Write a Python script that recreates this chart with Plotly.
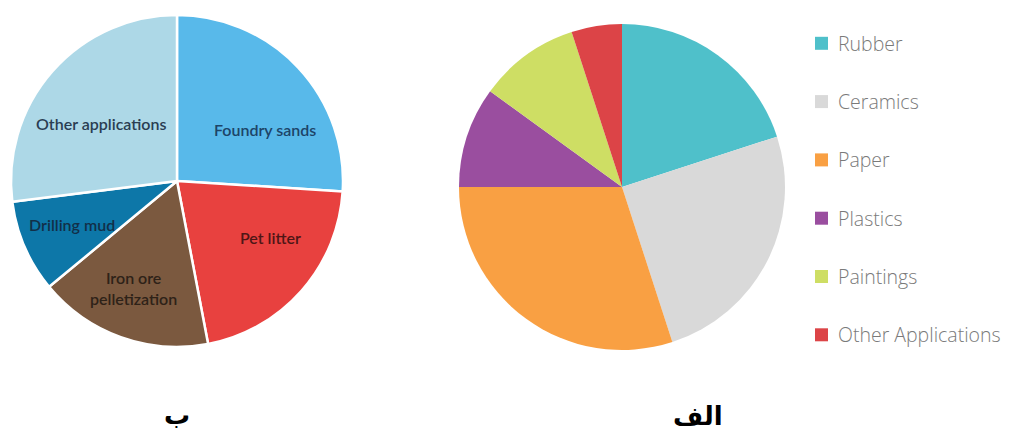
import plotly.graph_objects as go

W, H = 1012, 439

# Left chart: uses of bentonite by share
uses_b = ["Foundry sands", "Pet litter", "Iron ore pelletization", "Drilling mud", "Other applications"]
share_b = [26, 21, 17, 9, 27]
colors_b = ["#58B9EA", "#E8413F", "#7B593F", "#0D77A8", "#ADD8E7"]
text_b = ["Foundry sands", "Pet litter", "Iron ore<br>pelletization", "Drilling mud", "Other applications"]

# Right chart: uses of kaolin by share
uses_a = ["Rubber", "Ceramics", "Paper", "Plastics", "Paintings", "Other Applications"]
share_a = [20, 25, 30, 10, 10, 5]
colors_a = ["#4FC0CA", "#D9D9D9", "#F9A043", "#9A4E9F", "#CEDE64", "#DC4447"]

# Panel captions
captions = ["ب", "الف"]


def px(x, y):
    """Pixel position -> paper coordinates."""
    return x / W, 1 - y / H


def dom(x0, y0, x1, y1):
    a, b = px(x0, y1)
    c, d = px(x1, y0)
    return dict(x=[a, c], y=[b, d])


fig = go.Figure()

fig.add_trace(go.Pie(
    labels=uses_b, values=share_b, sort=False, direction="clockwise", rotation=0,
    marker=dict(colors=colors_b, line=dict(color="white", width=2.5)),
    textinfo="none", hoverinfo="label+percent", showlegend=False,
    domain=dom(11, 15, 343, 347),
))

fig.add_trace(go.Pie(
    labels=uses_a, values=share_a, sort=False, direction="clockwise", rotation=0,
    marker=dict(colors=colors_a, line=dict(width=0)),
    textinfo="none", hoverinfo="label+percent", showlegend=False,
    domain=dom(459, 24, 785, 350),
))

# In-slice labels for the left chart
label_pos_b = [(265, 130), (270, 237), (133, 288), (72, 224), (101, 123)]
label_col_b = ["#1D4468", "#4E1616", "#2E2218", "#122F48", "#2A3D52"]
for t, (x, y), c in zip(text_b, label_pos_b, label_col_b):
    ax, ay = px(x, y)
    fig.add_annotation(x=ax, y=ay, xref="paper", yref="paper", text=t, showarrow=False,
                       xanchor="center", yanchor="middle",
                       font=dict(family="Lato", size=16, color=c, weight=600))

# Hand-built legend for the right chart
leg_y0, leg_step = 43.3, 58.3
for i, (name, col) in enumerate(zip(uses_a, colors_a)):
    yc = leg_y0 + i * leg_step
    x0, y0 = px(815, yc - 6.5)
    x1, y1 = px(828, yc + 6.5)
    fig.add_shape(type="rect", xref="paper", yref="paper", x0=x0, x1=x1, y0=y1, y1=y0,
                  fillcolor=col, line=dict(width=0))
    tx, ty = px(836, yc)
    fig.add_annotation(x=tx, y=ty, xref="paper", yref="paper", text=name, showarrow=False,
                       xanchor="left", yanchor="middle",
                       font=dict(family="Open Sans", size=19.5, color="#7A7A7A", weight=300))

# Captions under each chart
for t, (x, y) in zip(captions, [(177, 415), (698, 416)]):
    cx, cy = px(x, y)
    fig.add_annotation(x=cx, y=cy, xref="paper", yref="paper", text=f"<b>{t}</b>",
                       showarrow=False, xanchor="center", yanchor="middle",
                       font=dict(family="DejaVu Sans", size=26, color="#000000"))

fig.update_layout(
    width=W, height=H, margin=dict(l=0, r=0, t=0, b=0),
    paper_bgcolor="white", plot_bgcolor="white",
)

fig.write_html("out.html")
